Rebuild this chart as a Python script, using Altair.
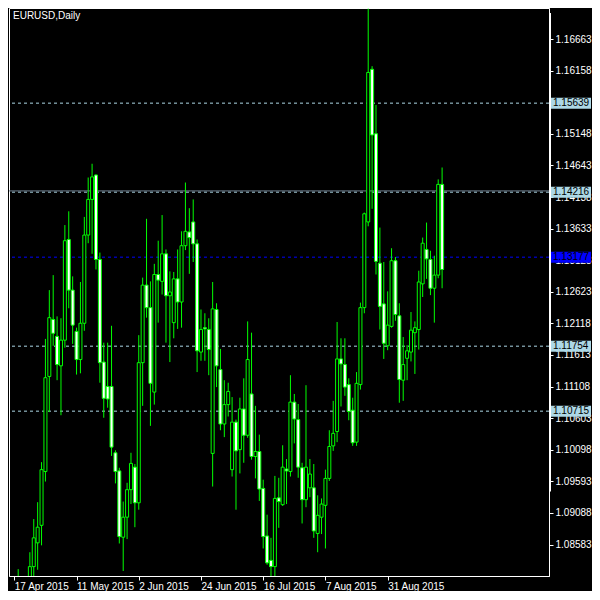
import altair as alt
import pandas as pd

# OHLC values (daily EURUSD bars, index 0 = 20 Apr 2015)
opens = [1.0800, 1.0735, 1.0740, 1.0725, 1.0823, 1.0861, 1.0889, 1.0975, 1.1127, 1.1218,
         1.1191, 1.1144, 1.1185, 1.1346, 1.1265, 1.1199, 1.1154, 1.1212, 1.1353, 1.1410,
         1.1449, 1.1314, 1.1150, 1.1111, 1.1111, 1.1005, 1.0976, 1.0870, 1.0902, 1.0946,
         1.0982, 1.0925, 1.1149, 1.1273, 1.1237, 1.1102, 1.1290, 1.1279, 1.1323, 1.1256,
         1.1213, 1.1283, 1.1246, 1.1336, 1.1358, 1.1374, 1.1339, 1.1166, 1.1205, 1.1202,
         1.1004, 1.1234, 1.1138, 1.1051, 1.1082, 1.0978, 1.1054, 1.1010, 1.1075, 1.1033,
         1.1099, 1.0999, 1.1007, 1.0948, 1.0872, 1.0833, 1.0823, 1.0933, 1.0922, 1.0979,
         1.0975, 1.1086, 1.1058, 1.0981, 1.0930, 1.0949, 1.0949, 1.0876, 1.0902, 1.0921,
         1.0964, 1.1016, 1.1039, 1.1155, 1.1146, 1.1114, 1.1073, 1.1022, 1.1114, 1.1237,
         1.1374, 1.1618, 1.1515, 1.1308, 1.1243, 1.1176, 1.1207, 1.1312, 1.1224, 1.1121,
         1.1156, 1.1166, 1.1197, 1.1202, 1.1275, 1.1330, 1.1314, 1.1268, 1.1289, 1.1434]
highs = [1.0819, 1.0770, 1.0775, 1.0846, 1.0899, 1.0926, 1.0990, 1.1187, 1.1265, 1.1289,
         1.1223, 1.1220, 1.1369, 1.1391, 1.1287, 1.1205, 1.1278, 1.1382, 1.1445, 1.1467,
         1.1450, 1.1325, 1.1181, 1.1181, 1.1208, 1.1009, 1.0981, 1.0927, 1.0957, 1.1005,
         1.0987, 1.1193, 1.1285, 1.1379, 1.1279, 1.1307, 1.1344, 1.1385, 1.1330, 1.1295,
         1.1294, 1.1330, 1.1359, 1.1437, 1.1396, 1.1410, 1.1346, 1.1234, 1.1228, 1.1220,
         1.1278, 1.1244, 1.1171, 1.1121, 1.1117, 1.1094, 1.1058, 1.1093, 1.1124, 1.1215,
         1.1197, 1.1080, 1.1034, 1.0962, 1.0906, 1.0869, 1.0968, 1.0965, 1.1017, 1.0995,
         1.1129, 1.1099, 1.1083, 1.0989, 1.1113, 1.0995, 1.0987, 1.0937, 1.0932, 1.0978,
         1.1041, 1.1088, 1.1214, 1.1188, 1.1188, 1.1124, 1.1093, 1.1134, 1.1245, 1.1389,
         1.1715, 1.1623, 1.1561, 1.1365, 1.1310, 1.1263, 1.1332, 1.1318, 1.1244, 1.1190,
         1.1177, 1.1230, 1.1215, 1.1296, 1.1349, 1.1373, 1.1328, 1.1320, 1.1442, 1.1461]
lows = [1.0705, 1.0710, 1.0700, 1.0710, 1.0800, 1.0818, 1.0857, 1.0959, 1.1070, 1.1176,
        1.1121, 1.1065, 1.1173, 1.1236, 1.1179, 1.1130, 1.1132, 1.1200, 1.1340, 1.1323,
        1.1298, 1.1117, 1.1061, 1.1077, 1.1000, 1.0956, 1.0860, 1.0816, 1.0867, 1.0923,
        1.0886, 1.0914, 1.1080, 1.1221, 1.1048, 1.1082, 1.1213, 1.1258, 1.1181, 1.1150,
        1.1188, 1.1203, 1.1205, 1.1329, 1.1291, 1.1310, 1.1134, 1.1152, 1.1152, 1.1129,
        1.0951, 1.1110, 1.1041, 1.1030, 1.1063, 1.0967, 1.0914, 1.0972, 1.0989, 1.1029,
        1.0994, 1.0964, 1.0928, 1.0852, 1.0826, 1.0805, 1.0805, 1.0885, 1.0920, 1.0923,
        1.0967, 1.1020, 1.0965, 1.0892, 1.0918, 1.0934, 1.0869, 1.0846, 1.0875, 1.0852,
        1.0960, 1.1008, 1.1022, 1.1079, 1.1096, 1.1057, 1.1016, 1.1016, 1.1106, 1.1228,
        1.1367, 1.1395, 1.1290, 1.1202, 1.1155, 1.1169, 1.1205, 1.1216, 1.1085, 1.1088,
        1.1121, 1.1151, 1.1131, 1.1170, 1.1254, 1.1283, 1.1257, 1.1213, 1.1284, 1.1268]
closes = [1.0735, 1.0740, 1.0725, 1.0823, 1.0869, 1.0886, 1.0978, 1.1125, 1.1221, 1.1196,
          1.1146, 1.1185, 1.1344, 1.1265, 1.1209, 1.1154, 1.1212, 1.1353, 1.1410, 1.1446,
          1.1314, 1.1149, 1.1092, 1.1091, 1.1014, 1.0975, 1.0871, 1.0902, 1.0946, 1.0988,
          1.0925, 1.1149, 1.1273, 1.1237, 1.1116, 1.1290, 1.1281, 1.1323, 1.1256, 1.1262,
          1.1283, 1.1246, 1.1336, 1.1359, 1.1349, 1.1339, 1.1168, 1.1202, 1.1203, 1.1170,
          1.1235, 1.1144, 1.1051, 1.1082, 1.1103, 1.1054, 1.1008, 1.1075, 1.1033, 1.1154,
          1.0999, 1.1007, 1.0947, 1.0871, 1.0829, 1.0823, 1.0932, 1.0927, 1.0982, 1.0976,
          1.1086, 1.1059, 1.0982, 1.0930, 1.0982, 1.0971, 1.0880, 1.0905, 1.0923, 1.0964,
          1.1015, 1.1036, 1.1155, 1.1147, 1.1110, 1.1071, 1.1021, 1.1116, 1.1237, 1.1387,
          1.1613, 1.1513, 1.1311, 1.1239, 1.1180, 1.1209, 1.1312, 1.1226, 1.1122, 1.1146,
          1.1168, 1.1201, 1.1205, 1.1278, 1.1340, 1.1315, 1.1268, 1.1289, 1.1434, 1.1298]

tick_idx = [-1, 15, 31, 47, 63, 79, 95]
tick_labels = ["17 Apr 2015", "11 May 2015", "2 Jun 2015", "24 Jun 2015",
               "16 Jul 2015", "7 Aug 2015", "31 Aug 2015"]
price_ticks = [1.16663, 1.16158, 1.15148, 1.14643, 1.14138, 1.13633, 1.13128,
               1.12623, 1.12118, 1.11613, 1.11108, 1.10603, 1.10098, 1.09593, 1.09088, 1.08583]

level_prices = [1.15639, 1.14216, 1.13177, 1.11754, 1.10715]
level_colors = ["#ADD8E6", "#ADD8E6", "#0000FF", "#ADD8E6", "#ADD8E6"]
solid_level = [1.14236]
scroll_marker = [1.1708, 1.0943]

W, H = 540, 568
GREEN = "#00FF00"
FONT = "Liberation Sans"

df = pd.DataFrame({"k": list(range(len(opens))), "open": opens, "high": highs,
                   "low": lows, "close": closes})
lv = pd.DataFrame({"price": level_prices, "color": level_colors,
                   "label": [f"{p:.5f}" for p in level_prices]})
sl = pd.DataFrame({"price": solid_level})
sm = pd.DataFrame({"a": [scroll_marker[0]], "b": [scroll_marker[1]]})

label_expr = "''"
for i, t in reversed(list(zip(tick_idx, tick_labels))):
    label_expr = f"datum.value == {i} ? '{t}' : ({label_expr})"

xscale = alt.Scale(domain=[-1.08, 135.2], nice=False, zero=False)
yscale = alt.Scale(domain=[1.0808, 1.1716], nice=False, zero=False)
xaxis = alt.Axis(values=tick_idx, labelExpr=label_expr, title=None, grid=False,
                 labelColor="white", tickColor="white", domainColor="white",
                 tickSize=4, labelPadding=1, labelAlign="left", labelBaseline="top",
                 labelFont=FONT, labelFontSize=10, labelFlush=False, labelOverlap=False)
yaxis = alt.Axis(values=price_ticks, format=".5f", orient="right", title=None, grid=False,
                 labelColor="white", tickColor="white", domainColor="white",
                 tickSize=4, labelPadding=2, labelFont=FONT, labelFontSize=10,
                 labelFlush=False, labelOverlap=False)

X = alt.X("k:Q", scale=xscale, axis=xaxis)

wicks = alt.Chart(df).mark_rule(color=GREEN, strokeWidth=1, clip=True).encode(
    x=X, y=alt.Y("low:Q", scale=yscale, axis=yaxis), y2="high:Q")

bodies = alt.Chart(df).mark_bar(size=3, stroke=GREEN, strokeWidth=1, clip=True).encode(
    x=X, y=alt.Y("open:Q", scale=yscale, axis=yaxis), y2="close:Q",
    fill=alt.condition("datum.close >= datum.open", alt.value("black"), alt.value("white")))

levels = alt.Chart(lv).mark_rule(strokeDash=[3, 3], strokeWidth=1).encode(
    y=alt.Y("price:Q", scale=yscale, axis=yaxis),
    color=alt.Color("color:N", scale=None))

solid = alt.Chart(sl).mark_rule(color="#708090", strokeWidth=1).encode(
    y=alt.Y("price:Q", scale=yscale, axis=yaxis))

box_path = "M-1,-0.275L1,-0.275L1,0.275L-1,0.275Z"
boxes = alt.Chart(lv).mark_point(shape=box_path, size=1600, filled=True, opacity=1,
                                 strokeWidth=0).encode(
    x=alt.value(W + 22), y=alt.Y("price:Q", scale=yscale, axis=yaxis),
    color=alt.Color("color:N", scale=None))

box_text = alt.Chart(lv).mark_text(align="left", baseline="middle", font=FONT,
                                   fontSize=10, color="black").encode(
    x=alt.value(W + 4), y=alt.Y("price:Q", scale=yscale, axis=yaxis), text="label:N")

marker = alt.Chart(sm).mark_rule(color="white", strokeWidth=2).encode(
    x=alt.value(W + 1), y=alt.Y("a:Q", scale=yscale, axis=yaxis), y2="b:Q")

title = alt.Chart(sm).mark_text(align="left", baseline="middle", font=FONT,
                                fontSize=10, color="white").encode(
    x=alt.value(4), y=alt.value(8), text=alt.value("EURUSD,Daily"))

chart = alt.layer(levels, solid, wicks, bodies, marker, boxes, box_text, title).properties(
    width=W, height=H, padding=0, background="black"
).configure_view(stroke="white", strokeWidth=1, fill="black")

chart.save("out.html", embed_options={"renderer": "svg", "actions": False})
